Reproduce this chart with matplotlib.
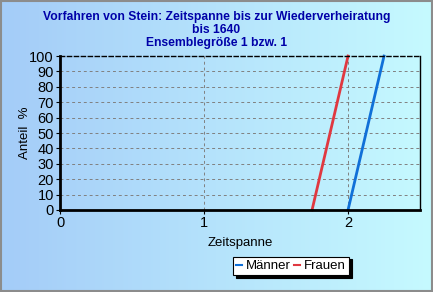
import numpy as np
import matplotlib.pyplot as plt
from matplotlib.patches import Rectangle

plt.rcParams['font.family'] = ['Liberation Sans', 'DejaVu Sans']

# data
maenner_x = [2.0, 2.25]
maenner_y = [0, 100]
frauen_x = [1.75, 2.0]
frauen_y = [0, 100]
yticks = list(range(0, 101, 10))
xticks = [0, 1, 2]

fig = plt.figure(figsize=(4.33, 2.92), dpi=100)

# gradient background
bg = fig.add_axes([0, 0, 1, 1], zorder=-10)
grad = np.linspace(0, 1, 256).reshape(1, -1)
c0 = np.array([0xa4, 0xcc, 0xf8]) / 255
c1 = np.array([0xc6, 0xfa, 0xff]) / 255
img = c0[None, None, :] * (1 - grad[..., None]) + c1[None, None, :] * grad[..., None]
bg.imshow(img, aspect='auto', extent=[0, 1, 0, 1])
bg.set_xlim(0, 1)
bg.set_ylim(0, 1)
bg.axis('off')
bg.add_patch(Rectangle((0.002, 0.004), 0.996, 0.993, fill=False, edgecolor='#8c8c8c', lw=1.5))

ax = fig.add_axes([0.139, 0.281, 0.831, 0.527])
ax.patch.set_alpha(0)

ax.plot(maenner_x, maenner_y, color='#1070d8', lw=2, label='Männer', clip_on=False)
ax.plot(frauen_x, frauen_y, color='#e03840', lw=2, label='Frauen', clip_on=False)

ax.set_xlim(0, 2.5)
ax.set_ylim(0, 100)
ax.set_xticks(xticks)
ax.set_yticks(yticks)
ax.tick_params(labelsize=10.5, length=3, width=0.8, pad=1.5)

for y in yticks[1:-1]:
    ax.axhline(y, color='#808080', lw=0.7, ls=(0, (3, 3)), zorder=0)
for x in xticks[1:]:
    ax.axvline(x, color='#808080', lw=0.7, ls=(0, (3, 3)), zorder=0)

ax.spines['left'].set_linewidth(2)
ax.spines['bottom'].set_linewidth(2)
ax.spines['right'].set_linewidth(1)
ax.spines['top'].set_linewidth(1)
ax.spines['top'].set_linestyle((0, (3, 2)))

ax.set_ylabel('Anteil  %', fontsize=9.5, labelpad=-1)
ax.set_xlabel('Zeitspanne', fontsize=9.5, labelpad=5)

fig.text(0.5, 0.897, 'Vorfahren von Stein: Zeitspanne bis zur Wiederverheiratung\nbis 1640\nEnsemblegröße 1 bzw. 1',
         ha='center', va='center', fontsize=8.7, fontweight='bold', color='#0000a8', linespacing=1.1)

leg = fig.legend(loc='center', bbox_to_anchor=(0.672, 0.089), ncol=2, fontsize=9.5,
                 frameon=True, fancybox=False, shadow={'color': 'black', 'alpha': 1},
                 handlelength=0.4, handletextpad=0.3, columnspacing=0.3,
                 borderpad=0.25, edgecolor='black')
leg.get_frame().set_linewidth(0.8)
for h in leg.get_lines():
    h.set_linewidth(1.5)

fig.savefig('out.png', dpi=100)
